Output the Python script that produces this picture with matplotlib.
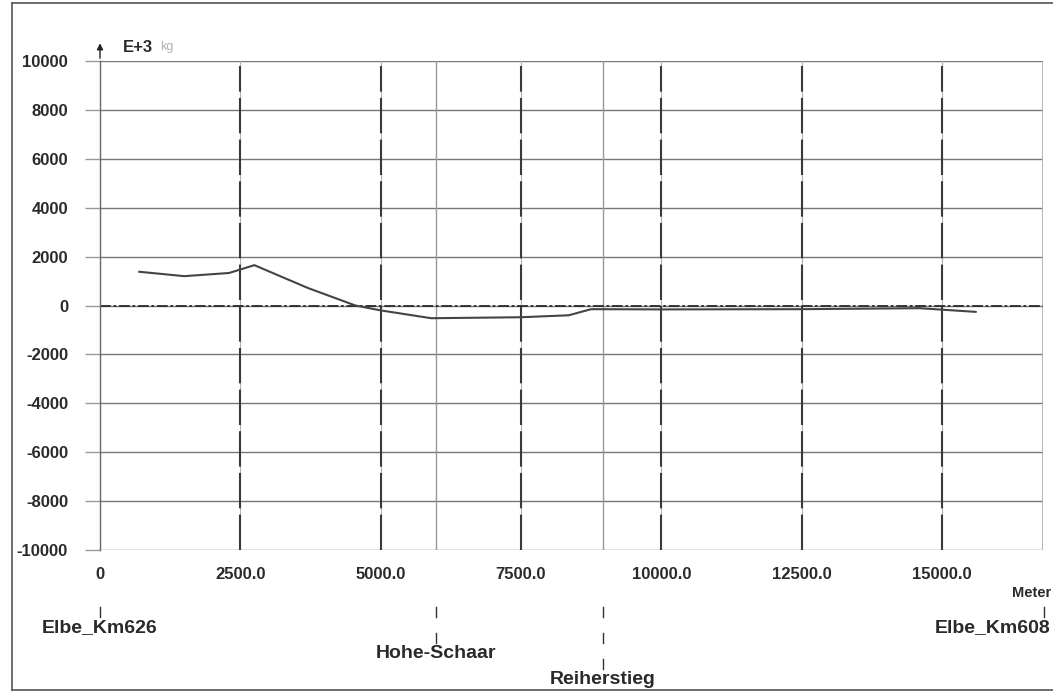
import numpy as np
import matplotlib.pyplot as plt
from matplotlib.lines import Line2D
from matplotlib.transforms import blended_transform_factory

plt.rcParams['font.family'] = ['Liberation Sans', 'DejaVu Sans']

# profile along the river (metres, value in E+3 kg)
dist = [700, 1500, 2300, 2750, 3700, 4550, 5000, 5900, 7500, 8350, 8750, 10000, 12500, 14600, 15600]
mass = [1380, 1200, 1330, 1650, 720, 0, -200, -520, -480, -400, -150, -160, -150, -110, -260]

# axis ticks
xticks = [0, 2500, 5000, 7500, 10000, 12500, 15000]
xtick_labels = ['0', '2500.0', '5000.0', '7500.0', '10000.0', '12500.0', '15000.0']
yticks = [10000, 8000, 6000, 4000, 2000, 0, -2000, -4000, -6000, -8000, -10000]

# stations along the profile
station_names = ['Elbe_Km626', 'Hohe-Schaar', 'Reiherstieg', 'Elbe_Km608']
station_pos = [0, 5990, 8960, 16820]
station_row = [0, 1, 2, 0]

xmax = 16800
W, H = 1053, 694

fig = plt.figure(figsize=(W/100, H/100), dpi=100)
ax = fig.add_axes([100/W, 1-550/H, 943/W, 489/H])
ax.set_xlim(0, xmax)
ax.set_ylim(-10000, 10000)

# horizontal grid
for yv in yticks:
    ax.axhline(yv, color='#777777', lw=1.0, zorder=1)
# station lines (light solid)
for sp in station_pos[1:3]:
    ax.axvline(sp, color='#999999', lw=1.0, zorder=1)
ax.axvline(xmax, color='#aaaaaa', lw=1.2, zorder=1)
# vertical grid at ticks: light line with dark dashes over it
for xv in xticks[1:]:
    ax.axvline(xv, color='#b0b0b0', lw=0.8, zorder=1)
    ax.axvline(xv, ymin=0.0, ymax=0.99, color='#3a3a3a', lw=1.5, dashes=(17, 3), zorder=2)

# zero line, dash-dot
ax.axhline(0, color='#2a2a2a', lw=1.3, dashes=(6, 1.5, 1.5, 1.5), zorder=2)

# data
ax.plot(dist, mass, color='#444444', lw=1.5, zorder=3)

for s in ['top', 'right', 'bottom']:
    ax.spines[s].set_visible(False)
ax.spines['left'].set_color('#666666')
ax.spines['left'].set_linewidth(1.0)

ax.set_yticks(yticks)
ax.set_yticklabels([str(v) for v in yticks], fontsize=12, fontweight='bold', color='#2a2a2a')
ax.set_xticks(xticks)
ax.set_xticklabels(xtick_labels, fontsize=12, fontweight='bold', color='#2a2a2a')
ax.tick_params(axis='y', length=11, width=1.0, color='#999999', pad=12)
ax.tick_params(axis='x', length=0, pad=12)

# arrow and unit on top of y axis
ax.annotate('', xy=(0, 1.042), xytext=(0, 1.0), xycoords='axes fraction',
            arrowprops=dict(arrowstyle='-|>', color='#222222', lw=1, mutation_scale=9))
fig.text(123/W, 1-47/H, 'E+3', fontsize=12, fontweight='bold', color='#2a2a2a', va='center')
fig.text(160/W, 1-47/H, 'kg', fontsize=9, color='#b0b0b0', va='center')

fig.text(1051/W, 1-593/H, 'Meter', fontsize=10.5, fontweight='bold',
         color='#2a2a2a', ha='right', va='center')

# station labels below the axis (x in data, y in figure pixels)
trans = blended_transform_factory(ax.transData, fig.transFigure)
for name, pos, row in zip(station_names, station_pos, station_row):
    for r in range(row + 1):
        y0 = 607 + r * 26
        fig.add_artist(Line2D([pos, pos], [1-y0/H, 1-(y0+10)/H], transform=trans,
                              color='#333333', lw=1.0))
    ty = 1 - (628 + row * 26) / H
    if pos > xmax:
        # last label sits against the right edge of the picture
        fig.text(1051/W, ty, name, fontsize=14, fontweight='bold', color='#2a2a2a',
                 ha='right', va='center')
    else:
        fig.text(pos, ty, name, transform=trans, fontsize=14,
                 fontweight='bold', color='#2a2a2a', ha='center', va='center')

# frame around the whole picture (right side is cut off)
fig.add_artist(Line2D([12/W, 12/W], [4/H, 1-3/H], transform=fig.transFigure, color='#555555', lw=1.2))
fig.add_artist(Line2D([12/W, 1], [1-3/H, 1-3/H], transform=fig.transFigure, color='#555555', lw=1.2))
fig.add_artist(Line2D([12/W, 1], [4/H, 4/H], transform=fig.transFigure, color='#555555', lw=1.2))

fig.savefig('out.png', dpi=100)
